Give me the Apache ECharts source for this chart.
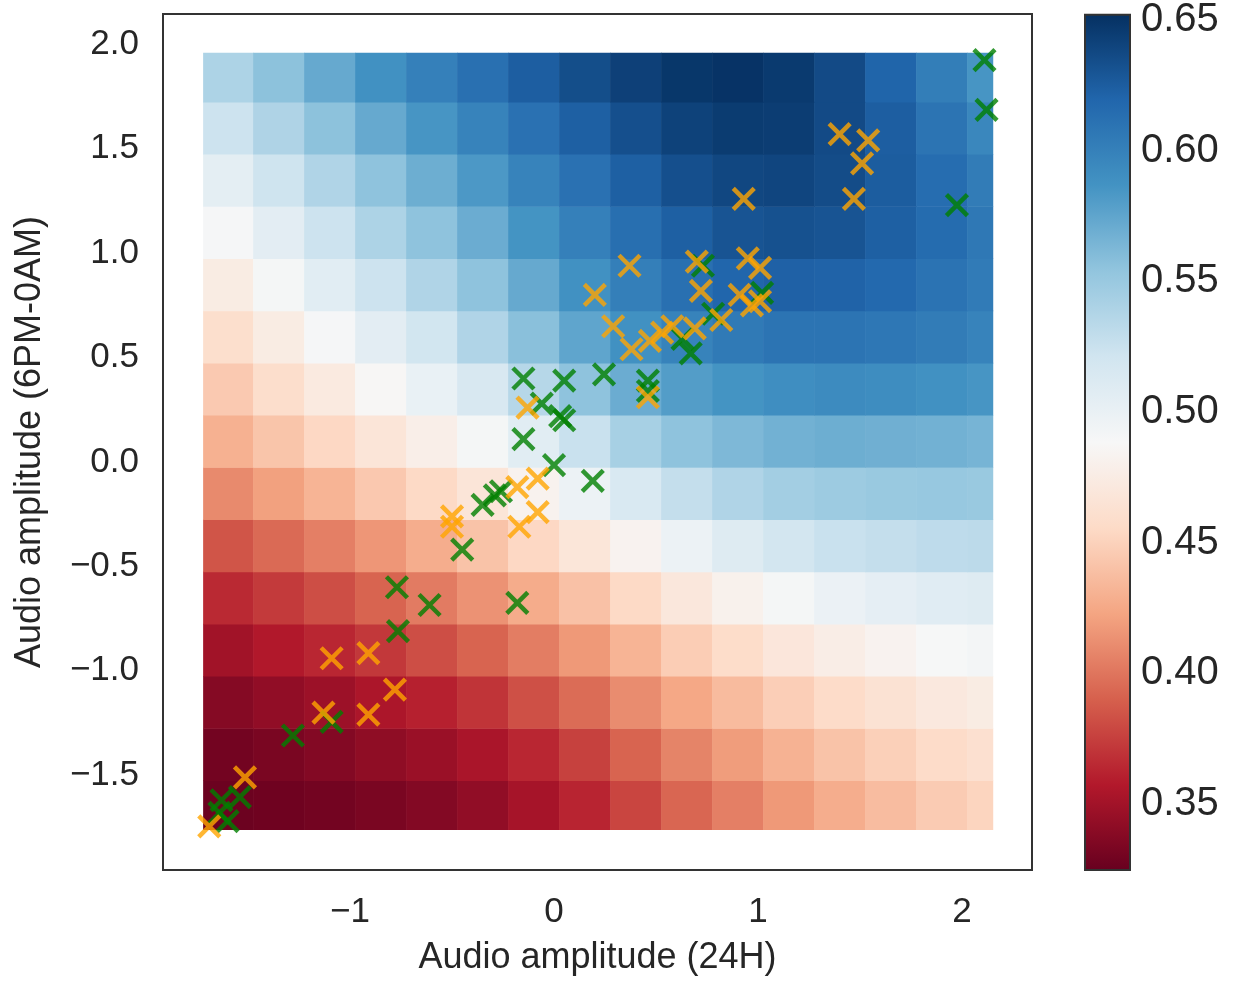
<!DOCTYPE html>
<html><head><meta charset="utf-8">
<script src="https://cdn.jsdelivr.net/npm/echarts@6/dist/echarts.min.js"></script>
<style>html,body{margin:0;padding:0;background:#fff}#c{width:1246px;height:983px}</style>
</head><body><div id="c"></div>
<script>
// ---- background probability field, rows bottom -> top ----
const fieldX = [-1.6, -1.35, -1.1, -0.85, -0.6, -0.35, -0.1, 0.15, 0.4, 0.65, 0.9, 1.15, 1.4, 1.65, 1.9, 2.15];
const fieldY = [-1.65, -1.4, -1.15, -0.9, -0.65, -0.4, -0.15, 0.1, 0.35, 0.6, 0.85, 1.1, 1.35, 1.6, 1.85];
const fieldXRange = [-1.72, 2.15];
const fieldYRange = [-1.76, 1.96];
const fieldRow0  = [0.327,0.328,0.330,0.333,0.337,0.343,0.352,0.363,0.378,0.393,0.405,0.417,0.428,0.437,0.446,0.452];
const fieldRow1  = [0.330,0.333,0.337,0.342,0.347,0.354,0.364,0.376,0.392,0.407,0.419,0.431,0.441,0.449,0.457,0.462];
const fieldRow2  = [0.338,0.343,0.348,0.355,0.361,0.370,0.383,0.396,0.411,0.425,0.436,0.448,0.457,0.464,0.471,0.475];
const fieldRow3  = [0.350,0.357,0.364,0.372,0.382,0.392,0.404,0.417,0.432,0.447,0.458,0.469,0.477,0.483,0.489,0.492];
const fieldRow4  = [0.365,0.373,0.382,0.392,0.403,0.414,0.427,0.440,0.455,0.470,0.481,0.491,0.499,0.504,0.508,0.510];
const fieldRow5  = [0.385,0.395,0.405,0.416,0.428,0.441,0.454,0.468,0.483,0.498,0.510,0.519,0.525,0.528,0.531,0.532];
const fieldRow6  = [0.410,0.421,0.432,0.444,0.455,0.467,0.482,0.498,0.514,0.528,0.538,0.545,0.548,0.550,0.551,0.550];
const fieldRow7  = [0.430,0.442,0.454,0.467,0.478,0.491,0.507,0.525,0.543,0.555,0.562,0.567,0.569,0.568,0.567,0.565];
const fieldRow8  = [0.445,0.459,0.473,0.487,0.500,0.515,0.535,0.555,0.570,0.580,0.586,0.590,0.592,0.591,0.588,0.585];
const fieldRow9  = [0.460,0.475,0.490,0.506,0.520,0.538,0.557,0.575,0.588,0.598,0.605,0.609,0.609,0.607,0.603,0.598];
const fieldRow10 = [0.475,0.491,0.507,0.523,0.538,0.555,0.572,0.588,0.601,0.612,0.619,0.622,0.621,0.617,0.610,0.604];
const fieldRow11 = [0.490,0.506,0.523,0.540,0.555,0.570,0.586,0.600,0.613,0.623,0.630,0.632,0.630,0.623,0.615,0.606];
const fieldRow12 = [0.505,0.522,0.538,0.555,0.569,0.583,0.598,0.611,0.623,0.633,0.638,0.639,0.635,0.625,0.614,0.603];
const fieldRow13 = [0.523,0.539,0.556,0.572,0.585,0.598,0.611,0.623,0.633,0.641,0.645,0.644,0.636,0.624,0.609,0.595];
const fieldRow14 = [0.540,0.556,0.572,0.588,0.600,0.612,0.624,0.634,0.642,0.648,0.650,0.646,0.636,0.620,0.602,0.585];
const fieldRows = [fieldRow0,fieldRow1,fieldRow2,fieldRow3,fieldRow4,fieldRow5,fieldRow6,fieldRow7,
                   fieldRow8,fieldRow9,fieldRow10,fieldRow11,fieldRow12,fieldRow13,fieldRow14];

// ---- scatter points ----
const orangeX = [0.20,-0.13,-0.08,-0.18,-0.08,-0.50,-0.50,-0.17,0.37,0.70,0.95,1.01,0.72,0.91,0.97,1.01,0.29,0.82,0.58,0.69,0.47,0.38,0.53,0.46,0.93,1.40,1.54,1.51,1.47,-1.09,-0.91,-0.78,-1.13,-0.91,-1.515,-1.69];
const orangeY = [0.80,0.26,-0.08,-0.12,-0.24,-0.26,-0.31,-0.31,0.94,0.96,0.975,0.93,0.82,0.80,0.75,0.77,0.65,0.68,0.65,0.64,0.58,0.54,0.62,0.31,1.26,1.57,1.54,1.43,1.26,-0.94,-0.915,-1.09,-1.20,-1.21,-1.51,-1.745];
const greenX = [-0.15,0.05,0.245,-0.06,0.03,0.05,-0.15,0.0,0.19,-0.29,-0.26,-0.35,-0.45,-0.61,-0.18,-0.77,-0.765,-1.09,-1.28,-1.54,-1.63,-1.64,-1.60,0.73,1.02,0.78,0.67,0.46,0.46,0.63,2.11,2.12,1.975];
const greenY = [0.40,0.39,0.42,0.28,0.22,0.20,0.11,-0.015,-0.09,-0.16,-0.14,-0.205,-0.42,-0.685,-0.675,-0.60,-0.81,-1.245,-1.31,-1.605,-1.62,-1.68,-1.72,0.94,0.81,0.71,0.52,0.39,0.34,0.59,1.925,1.686,1.23];

// ---- ticks ----
const xTicks = [-1, 0, 1, 2];
const yTicks = [-1.5, -1.0, -0.5, 0.0, 0.5, 1.0, 1.5, 2.0];
const cbTicks = [0.35, 0.40, 0.45, 0.50, 0.55, 0.60, 0.65];
const cbRange = [0.3247, 0.652];

const rdbu = ['#67001f','#b2182b','#d6604d','#f4a582','#fddbc7','#f7f7f7','#d1e5f0','#92c5de','#4393c3','#2166ac','#053061'];
const FONT = 'Liberation Sans, Arial, sans-serif';
const TXT = '#262626';

const cells = [];
fieldRows.forEach((row, j) => row.forEach((v, k) => cells.push([fieldX[k], fieldY[j], v])));
const pts = (xs, ys) => xs.map((x, i) => [x, ys[i]]);
const minusFmt = (v, d) => (v < 0 ? '\u2212' : '') + Math.abs(v).toFixed(d);

const hx = (fieldX[1] - fieldX[0]) / 2, hy = (fieldY[1] - fieldY[0]) / 2;
function renderCell(params, api) {
  const xc = api.value(0), yc = api.value(1);
  const x0 = Math.max(xc - hx, fieldXRange[0]), x1 = Math.min(xc + hx, fieldXRange[1]);
  const y0 = Math.max(yc - hy, fieldYRange[0]), y1 = Math.min(yc + hy, fieldYRange[1]);
  const p0 = api.coord([x0, y1]), p1 = api.coord([x1, y0]);
  return { type: 'rect', shape: { x: p0[0], y: p0[1], width: p1[0] - p0[0] + 0.6, height: p1[1] - p0[1] + 0.6 },
           style: { fill: api.visual('color') } };
}
function renderBar(params, api) {
  const p0 = api.coord([0, cbRange[1]]), p1 = api.coord([1, cbRange[0]]);
  const stops = rdbu.slice().reverse().map((c, i) => ({ offset: i / (rdbu.length - 1), color: c }));
  return { type: 'rect', shape: { x: p0[0], y: p0[1], width: p1[0] - p0[0], height: p1[1] - p0[1] },
           style: { fill: { type: 'linear', x: 0, y: 0, x2: 0, y2: 1, colorStops: stops }, stroke: '#333', lineWidth: 2 } };
}

const xSym = 'path://M0,0L10,10M10,0L0,10';
const chart = echarts.init(document.getElementById('c'), null, { renderer: 'canvas' });
chart.setOption({
  animation: false,
  backgroundColor: '#ffffff',
  textStyle: { fontFamily: FONT },
  grid: [
    { left: 163, top: 14, width: 869, height: 856, show: true, borderColor: '#333', borderWidth: 2, backgroundColor: 'transparent' },
    { left: 1085, top: 14, width: 45, height: 856, show: false }
  ],
  xAxis: [
    { type: 'value', gridIndex: 0, min: -1.9167, max: 2.343, splitLine: { show: false }, axisLine: { show: false }, axisTick: { show: false },
      axisLabel: { customValues: xTicks, formatter: v => minusFmt(v, 0), fontSize: 35, color: TXT, margin: 25, fontFamily: FONT },
      name: 'Audio amplitude (24H)', nameLocation: 'middle', nameGap: 70, nameTextStyle: { fontSize: 36, color: TXT, fontFamily: FONT } },
    { type: 'value', gridIndex: 1, min: 0, max: 1, show: false }
  ],
  yAxis: [
    { type: 'value', gridIndex: 0, min: -1.954, max: 2.1456, splitLine: { show: false }, axisLine: { show: false }, axisTick: { show: false },
      axisLabel: { customValues: yTicks, formatter: v => minusFmt(v, 1), fontSize: 35, color: TXT, margin: 24, fontFamily: FONT },
      name: 'Audio amplitude (6PM-0AM)', nameLocation: 'middle', nameGap: 115, nameTextStyle: { fontSize: 36, color: TXT, fontFamily: FONT } },
    { type: 'value', gridIndex: 1, min: cbRange[0], max: cbRange[1], position: 'right', splitLine: { show: false }, axisLine: { show: false },
      axisTick: { show: true, customValues: cbTicks, length: 7, lineStyle: { color: '#333', width: 2 } },
      axisLabel: { customValues: cbTicks, formatter: v => v.toFixed(2), fontSize: 40, color: TXT, margin: 11, padding: [6, 0, 0, 0], fontFamily: FONT } }
  ],
  visualMap: { type: 'continuous', show: false, min: cbRange[0], max: cbRange[1], dimension: 2, seriesIndex: 0, inRange: { color: rdbu } },
  series: [
    { type: 'custom', xAxisIndex: 0, yAxisIndex: 0, renderItem: renderCell, data: cells, silent: true, clip: true },
    { type: 'scatter', xAxisIndex: 0, yAxisIndex: 0, data: pts(greenX, greenY), symbol: xSym, symbolSize: 21, silent: true,
      itemStyle: { color: 'rgba(0,0,0,0)', borderColor: '#008000', borderWidth: 4.5 } },
    { type: 'scatter', xAxisIndex: 0, yAxisIndex: 0, data: pts(orangeX, orangeY), symbol: xSym, symbolSize: 21, silent: true,
      itemStyle: { color: 'rgba(0,0,0,0)', borderColor: '#ffa500', borderWidth: 4.5 } },
    { type: 'custom', xAxisIndex: 1, yAxisIndex: 1, renderItem: renderBar, data: [[0, cbRange[0]]], silent: true }
  ]
});
</script></body></html>
